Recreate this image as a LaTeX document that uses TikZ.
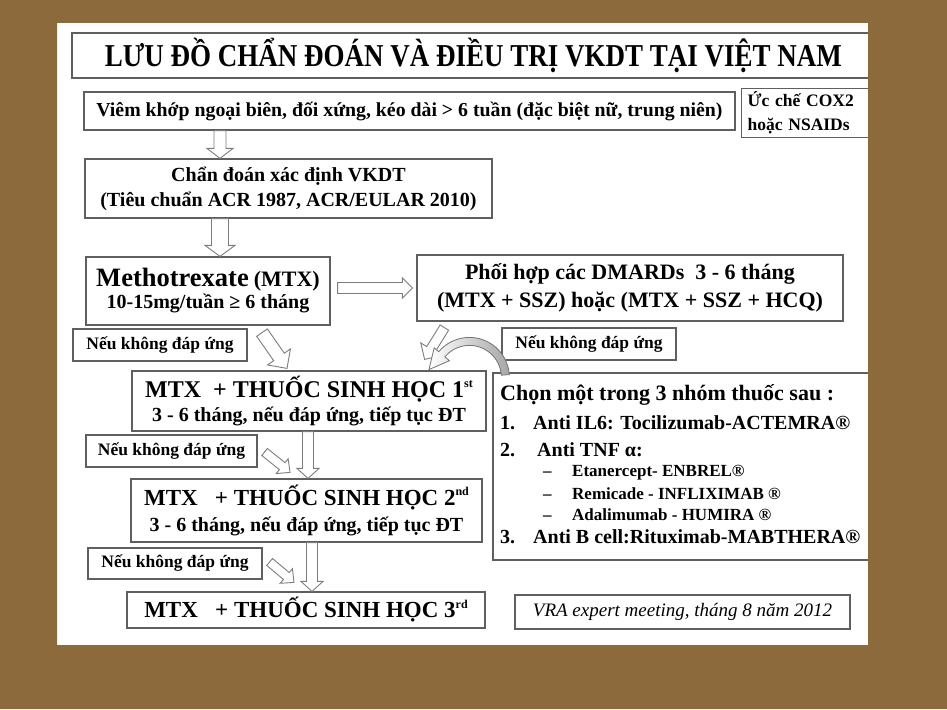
\documentclass[tikz,border=0pt]{standalone}
\usepackage{fontspec}
\setmainfont{Liberation Serif}
\usetikzlibrary{positioning}
\usetikzlibrary{calc}
\definecolor{frame}{RGB}{141, 106, 59}
\definecolor{boxline}{RGB}{95, 95, 95}
\definecolor{arrline}{RGB}{125, 125, 125}
\newcommand{\fsz}[2]{\fontsize{#1}{#2}\selectfont}
\newcommand{\ord}[1]{\raisebox{0.42em}{\fsz{12}{12}#1}}
% hollow block arrow: from, to, half shaft, half head, head length
\newcommand{\hollowarrow}[5]{%
  \coordinate (ha-c) at ($(#2)!#5!(#1)$);
  \draw[hollow] ($(#1)!#3!90:(#2)$) -- ($(ha-c)!#3!90:(#2)$) -- ($(ha-c)!#4!90:(#2)$)
    -- (#2) -- ($(ha-c)!#4!-90:(#2)$) -- ($(ha-c)!#3!-90:(#2)$) -- ($(#1)!#3!-90:(#2)$) -- cycle;}

\begin{document}
\begin{tikzpicture}[
  x=1pt, y=-1pt,
  box/.style={draw=boxline, line width=1.2pt, fill=white, inner sep=0pt, align=center, font=\bfseries},
  nobox/.style={box, font=\bfseries\fsz{17.5}{20}, minimum width=174pt, minimum height=32pt},
  item/.style={anchor=west, inner sep=0pt, font=\bfseries\fsz{20}{24}},
  subitem/.style={anchor=west, inner sep=0pt, font=\bfseries\fsz{17}{20}},
  hollow/.style={draw=arrline, fill=white, line width=0.9pt, line join=miter},
  band/.style={draw=black!55, line width=0.8pt, left color=white, right color=black!35}
]
\useasboundingbox (0,0) rectangle (947,709);
\fill[white] (57,23) rectangle (868,645);

% title and entry
\node[box, minimum width=803pt, minimum height=45pt, font=\bfseries\fsz{27}{30}] (title) at (473.5,55.5)
  {\scalebox{1}[1.18]{LƯU ĐỒ CHẨN ĐOÁN VÀ ĐIỀU TRỊ VKDT TẠI VIỆT NAM}};
\node[box, minimum width=651pt, minimum height=38pt, font=\bfseries\fsz{19.8}{22}] (viem) at (409.5,111)
  {Viêm khớp ngoại biên, đối xứng, kéo dài > 6 tuần (đặc biệt nữ, trung niên)};
\node[box, anchor=north west, minimum height=49pt, text width=122pt, inner xsep=6pt, align=left,
  font=\bfseries\fsz{17.5}{24}] (nsaid) at (741,88) {Ức chế COX2\\hoặc NSAIDs};
\node[box, minimum width=407pt, minimum height=59pt, font=\bfseries\fsz{20}{25}] (chandoan) at (288.5,188.5)
  {Chẩn đoán xác định VKDT\\(Tiêu chuẩn ACR 1987, ACR/EULAR 2010)};

% first line drugs
\node[box, minimum width=244pt, minimum height=68pt, font=\bfseries\fsz{20}{22}] (mtx) at (208,291)
  {{\fsz{26.5}{26}Methotrexate} {\fsz{22}{22}(MTX)}\\10-15mg/tuần ≥ 6 tháng};
\node[box, minimum width=426pt, minimum height=66pt, font=\bfseries\fsz{22}{28}] (dmard) at (630,288)
  {Phối hợp các DMARDs\ \ 3 - 6 tháng\\(MTX + SSZ) hoặc (MTX + SSZ + HCQ)};
\node[nobox] (nk1) at (160,345) {Nếu không đáp ứng};
\node[nobox] (nkr) at (589,344) {Nếu không đáp ứng};

% biologics
\node[box, minimum width=354pt, minimum height=60pt, font=\bfseries\fsz{20}{24}] (bio1) at (309,401)
  {{\fsz{24}{24}MTX\ \ + THUỐC SINH HỌC 1\ord{st}}\\3 - 6 tháng, nếu đáp ứng, tiếp tục ĐT};
\node[nobox, minimum width=171pt] (nk2) at (171.5,451) {Nếu không đáp ứng};
\node[box, minimum width=351pt, minimum height=63pt, font=\bfseries\fsz{20}{26}] (bio2) at (306.5,510.5)
  {{\fsz{23}{24}MTX\ \ \ + THUỐC SINH HỌC 2\ord{nd}}\\3 - 6 tháng, nếu đáp ứng, tiếp tục ĐT};
\node[nobox, minimum height=31pt] (nk3) at (175,563.5) {Nếu không đáp ứng};
\node[box, minimum width=358pt, minimum height=36pt, font=\bfseries\fsz{23}{24}] (bio3) at (306,610)
  {MTX\ \ \ + THUỐC SINH HỌC 3\ord{rd}};

% choice of biologic groups
\node[box, minimum width=382pt, minimum height=187pt] (chon) at (684,466.5) {};
\node[item, font=\bfseries\fsz{22}{24}] (chead) at (500,395) {Chọn một trong 3 nhóm thuốc sau :};
\node[item] (c1) at (500,423) {\makebox[33pt][l]{1.}Anti IL6: Tocilizumab-ACTEMRA®};
\node[item] (c2) at (500,450) {\makebox[37pt][l]{2.}Anti TNF α:};
\node[subitem] (c2a) at (543,473) {\makebox[29pt][l]{–}Etanercept- ENBREL®};
\node[subitem] (c2b) at (543,494) {\makebox[29pt][l]{–}Remicade - INFLIXIMAB ®};
\node[subitem] (c2c) at (543,515) {\makebox[29pt][l]{–}Adalimumab - HUMIRA ®};
\node[item] (c3) at (500,537) {\makebox[33pt][l]{3.}Anti B cell:Rituximab-MABTHERA®};
\node[box, minimum width=335pt, minimum height=34pt, font=\itshape\fsz{19}{22}] (vra) at (682.5,612)
  {VRA expert meeting, tháng 8 năm 2012};

% block arrows
\coordinate (xa) at (220,0);
\coordinate (xb) at (308,0);
\coordinate (xc) at (312,0);
\hollowarrow{viem.south -| xa}{chandoan.north -| xa}{6pt}{13pt}{10pt}
\hollowarrow{chandoan.south -| xa}{mtx.north -| xa}{8.5pt}{15pt}{11pt}
\hollowarrow{$(mtx.east)+(7,-3)$}{$(dmard.west)+(-4,0)$}{5.5pt}{10pt}{10pt}
\hollowarrow{$(mtx.south)+(54,7)$}{$(bio1.north)+(-22,-2)$}{6.5pt}{14pt}{14pt}
\hollowarrow{$(dmard.south west)+(28,6)$}{$(bio1.north east)+(-62,-11)$}{5pt}{12pt}{12pt}
\hollowarrow{bio1.south -| xb}{bio2.north -| xb}{5.5pt}{11pt}{10pt}
\hollowarrow{bio2.south -| xc}{bio3.north -| xc}{5.5pt}{11pt}{10pt}
\hollowarrow{$(nk2.east)+(7,1)$}{$(bio2.north -| xb)+(-18,-6)$}{4.5pt}{9.5pt}{10pt}
\hollowarrow{$(nk3.east)+(7,-1.5)$}{$(bio3.north -| xc)+(-18,-9)$}{4.5pt}{9.5pt}{10pt}

% curved arrow back to the first biologic
\coordinate (bend) at ($(chon.north west)+(-23,5)$);
\draw[band] ($(bend)+(4:40pt)$) arc[start angle=4, end angle=140, radius=40pt]
  -- ($(bend)+(140:46pt)$) -- ($(bend)+(140:36pt)+(230:20pt)$) -- ($(bend)+(140:26pt)$)
  -- ($(bend)+(140:32pt)$) arc[start angle=140, end angle=4, radius=32pt] -- cycle;

% slide frame
\fill[frame, even odd rule] (0,0) rectangle (947,709) (57,23) rectangle (868,645);
\end{tikzpicture}
\end{document}
